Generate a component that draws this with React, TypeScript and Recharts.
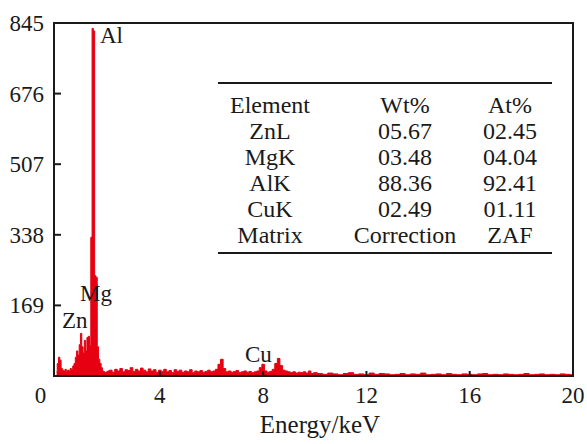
import { ComposedChart, Area, XAxis, YAxis, ReferenceArea } from 'recharts';

// EDS spectrum (energy in keV, counts)
const lowKeV = [
  0, 0.05, 0.1, 0.15, 0.2, 0.25, 0.3, 0.35, 0.4, 0.45, 0.5, 0.55, 0.6, 0.65, 0.7, 0.75, 0.8, 0.85, 0.9, 0.95,
  1.0, 1.05, 1.1, 1.15, 1.2, 1.25, 1.3, 1.35, 1.4, 1.45, 1.5, 1.55, 1.6, 1.65, 1.7, 1.75, 1.8, 1.85, 1.9, 1.95, 2.0,
];
const lowCounts = [
  10, 30, 45, 38, 18, 14, 12, 16, 10, 14, 12, 18, 15, 24, 30, 45, 60, 50, 75, 102,
  70, 55, 85, 60, 92, 95, 73, 332, 832, 826, 240, 236, 70, 40, 30, 20, 12, 10, 8, 10, 12,
];
const midKeV = [
  2.1, 2.2, 2.3, 2.4, 2.5, 2.6, 2.7, 2.8, 2.9, 3.0, 3.1, 3.2, 3.3, 3.4, 3.5, 3.6, 3.7, 3.8, 3.9, 4.0,
  4.1, 4.2, 4.3, 4.4, 4.5, 4.6, 4.7, 4.8, 4.9, 5.0, 5.1, 5.2, 5.3, 5.4, 5.5, 5.6, 5.7, 5.8, 5.9, 6.0,
  6.1, 6.2, 6.3, 6.4, 6.5, 6.6, 6.7, 6.8, 6.9, 7.0, 7.1, 7.2, 7.3, 7.4, 7.5, 7.6, 7.7, 7.8, 7.9, 8.0,
  8.1, 8.2, 8.3, 8.4, 8.5, 8.6, 8.7, 8.8, 8.9, 9.0, 9.1, 9.2, 9.3, 9.4, 9.5, 9.6, 9.7, 9.8, 9.9, 10.0,
];
const midCounts = [
  14, 9, 16, 12, 18, 10, 15, 13, 20, 11, 16, 12, 19, 14, 10, 17, 12, 15, 9, 14,
  11, 16, 10, 13, 8, 15, 11, 14, 9, 12, 10, 15, 8, 12, 10, 13, 9, 11, 14, 10,
  12, 16, 28, 40, 18, 10, 12, 9, 11, 13, 8, 10, 12, 9, 11, 8, 10, 12, 20, 28,
  12, 9, 11, 16, 30, 42, 25, 14, 12, 10, 8, 10, 7, 9, 8, 10, 7, 12, 6, 8,
];
const highKeV = [
  10.2, 10.4, 10.6, 10.8, 11.0, 11.2, 11.4, 11.6, 11.8, 12.0, 12.2, 12.4, 12.6, 12.8, 13.0, 13.2, 13.4,
  13.6, 13.8, 14.0, 14.2, 14.4, 14.6, 14.8, 15.0, 15.2, 15.4, 15.6, 15.8, 16.0, 16.2, 16.4, 16.6, 16.8,
  17.0, 17.2, 17.4, 17.6, 17.8, 18.0, 18.2, 18.4, 18.6, 18.8, 19.0, 19.2, 19.4, 19.6, 19.8, 20.0,
];
const highCounts = [
  6, 4, 7, 5, 3, 6, 8, 4, 5, 3, 7, 4, 6, 5, 3, 4, 6,
  3, 5, 4, 7, 3, 4, 5, 3, 6, 4, 3, 5, 4, 3, 5, 6, 3,
  4, 3, 5, 4, 3, 4, 6, 3, 4, 5, 3, 4, 3, 5, 4, 3,
];

const xTicks = [0, 4, 8, 12, 16, 20];
const yTicks = [169, 338, 507, 676, 845];

// composition table
const tableHead = ['Element', 'Wt%', 'At%'];
const elements = ['ZnL', 'MgK', 'AlK', 'CuK', 'Matrix'];
const wtPct = ['05.67', '03.48', '88.36', '02.49', 'Correction'];
const atPct = ['02.45', '04.04', '92.41', '01.11', 'ZAF'];

const RED = '#e60012';
const INK = '#1a1a1a';
const FONT = 'Liberation Serif';

const spectrum = [
  ...lowKeV.map((k, i) => ({ keV: k, counts: lowCounts[i] })),
  ...midKeV.map((k, i) => ({ keV: k, counts: midCounts[i] })),
  ...highKeV.map((k, i) => ({ keV: k, counts: highCounts[i] })),
];

const PLOT_LEFT = 54;
const PLOT_BOTTOM = 376;

const XTick = (props: any) => {
  const { x, payload } = props;
  const v = payload.value;
  const dx = v === 0 ? -16 : 0;
  return (
    <g>
      {v !== 0 && v !== 20 && (
        <line x1={x} x2={x} y1={PLOT_BOTTOM} y2={PLOT_BOTTOM - 5} stroke={INK} strokeWidth={2} />
      )}
      <text x={x + dx} y={403} textAnchor="middle" style={{ fontFamily: FONT }} fontSize={23} fill={INK}>
        {v}
      </text>
    </g>
  );
};

const YTick = (props: any) => {
  const { y, payload } = props;
  return (
    <g>
      <line x1={PLOT_LEFT} x2={PLOT_LEFT + 7} y1={y} y2={y} stroke={INK} strokeWidth={2} />
      <text x={44} y={y + 8} textAnchor="end" style={{ fontFamily: FONT }} fontSize={23} fill={INK}>
        {payload.value}
      </text>
    </g>
  );
};

const colX = [270, 405, 510];
const rowY = [113, 139, 165, 191, 217, 243];

export default function App() {
  return (
    <div style={{ position: 'absolute', left: 0, top: 0, width: 587, height: 444, background: '#fff', fontFamily: FONT }}>
      <ComposedChart width={587} height={444} data={spectrum} margin={{ top: 23, right: 14, left: 0, bottom: 0 }}>
        <XAxis
          dataKey="keV"
          type="number"
          domain={[-0.1, 20]}
          ticks={xTicks}
          interval={0}
          allowDataOverflow
          height={68}
          axisLine={false}
          tickLine={false}
          tick={XTick}
        />
        <YAxis
          type="number"
          domain={[0, 845]}
          ticks={yTicks}
          interval={0}
          width={54}
          axisLine={false}
          tickLine={false}
          tick={YTick}
        />
        <Area
          type="step"
          dataKey="counts"
          stroke={RED}
          strokeWidth={1}
          fill={RED}
          fillOpacity={1}
          isAnimationActive={false}
        />
        <ReferenceArea
          x1={-0.1}
          x2={20}
          y1={0}
          y2={845}
          fill="none"
          stroke={INK}
          strokeWidth={2}
          ifOverflow="visible"
        />
      </ComposedChart>
      <svg
        width={587}
        height={444}
        style={{ position: 'absolute', left: 0, top: 0, pointerEvents: 'none', fontFamily: FONT }}
        fill={INK}
      >
        {/* peak labels */}
        <text x={100} y={43} fontSize={23}>Al</text>
        <text x={80} y={301} fontSize={23}>Mg</text>
        <text x={62} y={328} fontSize={23}>Zn</text>
        <text x={245} y={362} fontSize={23}>Cu</text>

        {/* axis title */}
        <text x={320} y={433} fontSize={25} textAnchor="middle">Energy/keV</text>

        {/* table */}
        <line x1={218} x2={552} y1={83} y2={83} stroke={INK} strokeWidth={2} />
        <line x1={218} x2={552} y1={253} y2={253} stroke={INK} strokeWidth={2} />
        {tableHead.map((h, i) => (
          <text key={h} x={colX[i]} y={rowY[0]} fontSize={24} textAnchor="middle">{h}</text>
        ))}
        {elements.map((el, r) => (
          <g key={el}>
            <text x={colX[0]} y={rowY[r + 1]} fontSize={24} textAnchor="middle">{el}</text>
            <text x={colX[1]} y={rowY[r + 1]} fontSize={24} textAnchor="middle">{wtPct[r]}</text>
            <text x={colX[2]} y={rowY[r + 1]} fontSize={24} textAnchor="middle">{atPct[r]}</text>
          </g>
        ))}
      </svg>
    </div>
  );
}
